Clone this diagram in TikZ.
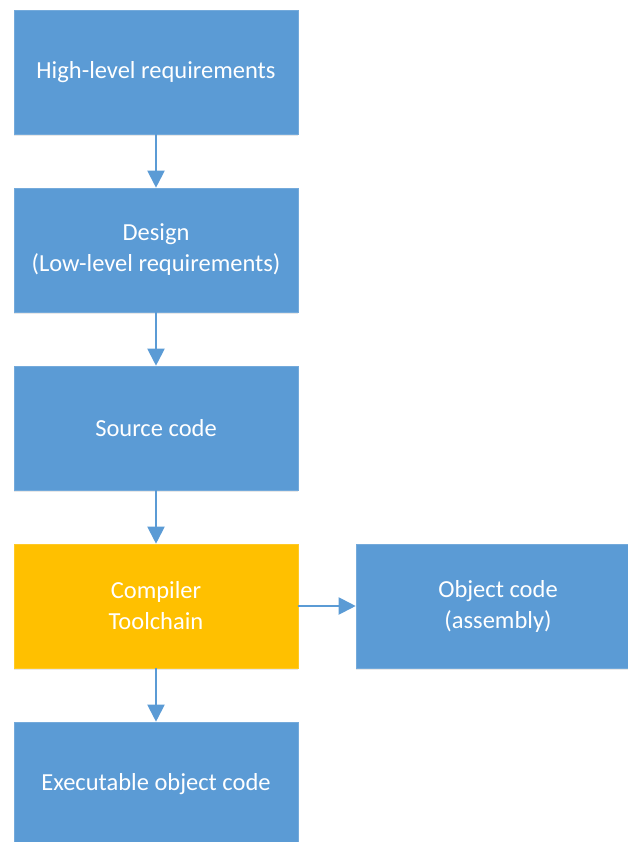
\documentclass[tikz,border=0pt]{standalone}
\usepackage{fontspec}
\setmainfont{Carlito}
\usetikzlibrary{arrows.meta,shadows}
\definecolor{boxblue}{HTML}{5B9BD5}
\definecolor{boxgold}{HTML}{FFC000}
\begin{document}
\begin{tikzpicture}[x=1pt,y=-1pt,
  flowbox/.style={rectangle, fill=boxblue, draw=boxblue!85!white, line width=0.6pt,
    minimum width=284pt, minimum height=124pt, inner sep=0pt,
    text=white, align=center, font=\fontsize{24.5}{31}\selectfont,
    drop shadow={shadow xshift=0pt, shadow yshift=-2pt, opacity=0.15, fill=black!60}},
  goldbox/.style={flowbox, fill=boxgold, draw=boxgold!85!white},
  flow/.style={draw=boxblue, line width=2pt,
    -{Triangle[length=17pt,width=17pt]}}]
  \useasboundingbox (0,0) rectangle (628,842);
  \begin{scope}
    \clip (0,0) rectangle (628,842);
    \node[flowbox] (hlr)  at (156,72)  {High-level requirements};
    \node[flowbox] (des)  at (156,250) {Design\\(Low-level requirements)};
    \node[flowbox] (src)  at (156,428) {Source code};
    \node[goldbox] (comp) at (156,606) {Compiler\\Toolchain};
    \node[flowbox] (obj)  at (498,606) {Object code\\(assembly)};
    \node[flowbox] (exe)  at (156,784) {Executable object code};
  \end{scope}
  \draw[flow] (hlr) -- (des);
  \draw[flow] (des) -- (src);
  \draw[flow] (src) -- (comp);
  \draw[flow] (comp) -- (obj);
  \draw[flow] (comp) -- (exe);
\end{tikzpicture}
\end{document}
